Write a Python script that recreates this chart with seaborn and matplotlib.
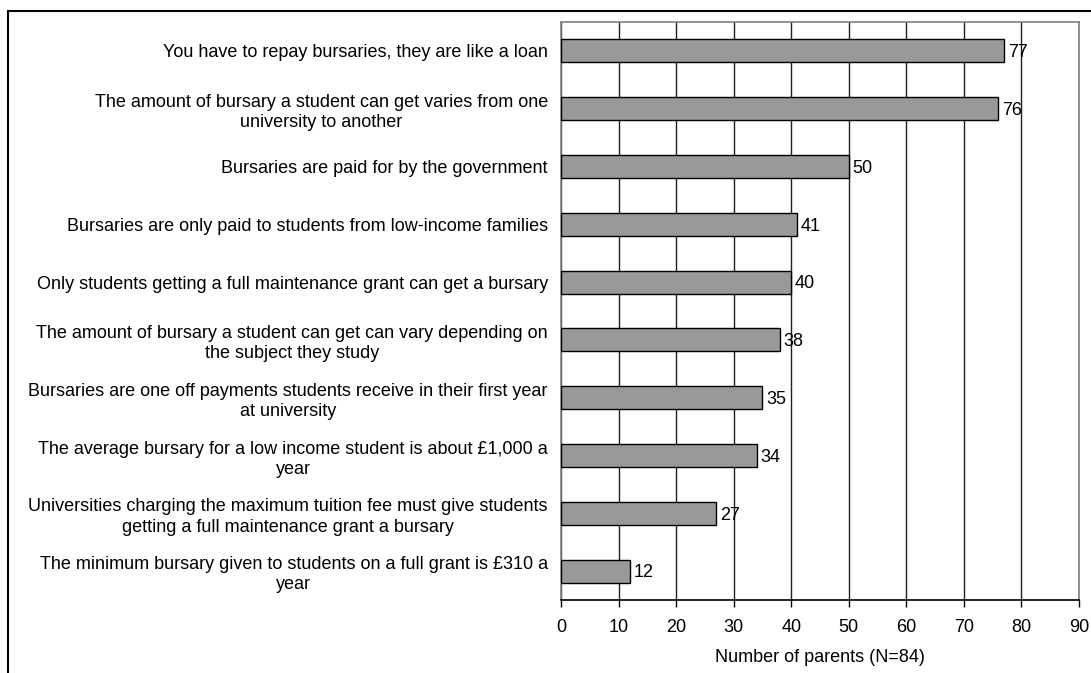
import pandas as pd
import numpy as np
import matplotlib.pyplot as plt
import seaborn as sns
from matplotlib.patches import Rectangle

# data
statements = [
    "You have to repay bursaries, they are like a loan",
    "The amount of bursary a student can get varies from one\nuniversity to another",
    "Bursaries are paid for by the government",
    "Bursaries are only paid to students from low-income families",
    "Only students getting a full maintenance grant can get a bursary",
    "The amount of bursary a student can get can vary depending on\nthe subject they study",
    "Bursaries are one off payments students receive in their first year\nat university",
    "The average bursary for a low income student is about \u00a31,000 a\nyear",
    "Universities charging the maximum tuition fee must give students\ngetting a full maintenance grant a bursary",
    "The minimum bursary given to students on a full grant is \u00a3310 a\nyear",
]
parents = [77, 76, 50, 41, 40, 38, 35, 34, 27, 12]
x_ticks = [0, 10, 20, 30, 40, 50, 60, 70, 80, 90]

df = pd.DataFrame({"statement": statements, "parents": parents})

sns.set_style("white")
plt.rcParams["font.family"] = ["Liberation Sans", "DejaVu Sans"]
plt.rcParams["text.color"] = "black"
plt.rcParams["xtick.color"] = "black"
plt.rcParams["ytick.color"] = "black"
plt.rcParams["axes.labelcolor"] = "black"

FS = 13

fig = plt.figure(figsize=(10.91, 6.73), dpi=100)
ax = fig.add_axes([561 / 1091, 1 - 600 / 673, (1079 - 561) / 1091, (600 - 22) / 673])

sns.barplot(data=df, x="parents", y="statement", order=statements,
            color="#999999", edgecolor="black", linewidth=1.0,
            width=0.4, saturation=1, ax=ax, zorder=3)

ax.set_xlim(0, 90)
ax.set_xticks(x_ticks)
ax.set_ylim(len(statements) - 0.5, -0.5)
ax.grid(axis="x", color="#202020", linewidth=1.0, zorder=0)
ax.set_axisbelow(True)

for i, v in enumerate(parents):
    ax.text(v + 0.6, i + 0.03, str(v), va="center", ha="left", fontsize=FS, zorder=4)

for s in ["top", "right", "left"]:
    ax.spines[s].set_color("#808080")
    ax.spines[s].set_linewidth(1.2)
ax.spines["bottom"].set_color("black")
ax.spines["bottom"].set_linewidth(1.2)

ax.tick_params(axis="x", length=5, width=1, labelsize=FS, pad=9, bottom=True)
ax.tick_params(axis="y", length=0, labelsize=FS, pad=9.5)
ax.set_yticks(range(len(statements)))
ax.set_yticklabels(statements, multialignment="center", linespacing=1.25)

ax.set_xlabel("Number of parents (N=84)", fontsize=FS, labelpad=9)
ax.set_ylabel("")

# outer frame around the chart
fig.patches.append(Rectangle((8 / 1091, -0.1), 1.2, 1 - 11 / 673 + 0.1,
                             transform=fig.transFigure, fill=False,
                             edgecolor="black", linewidth=1.5))

fig.savefig("out.png", dpi=100)
